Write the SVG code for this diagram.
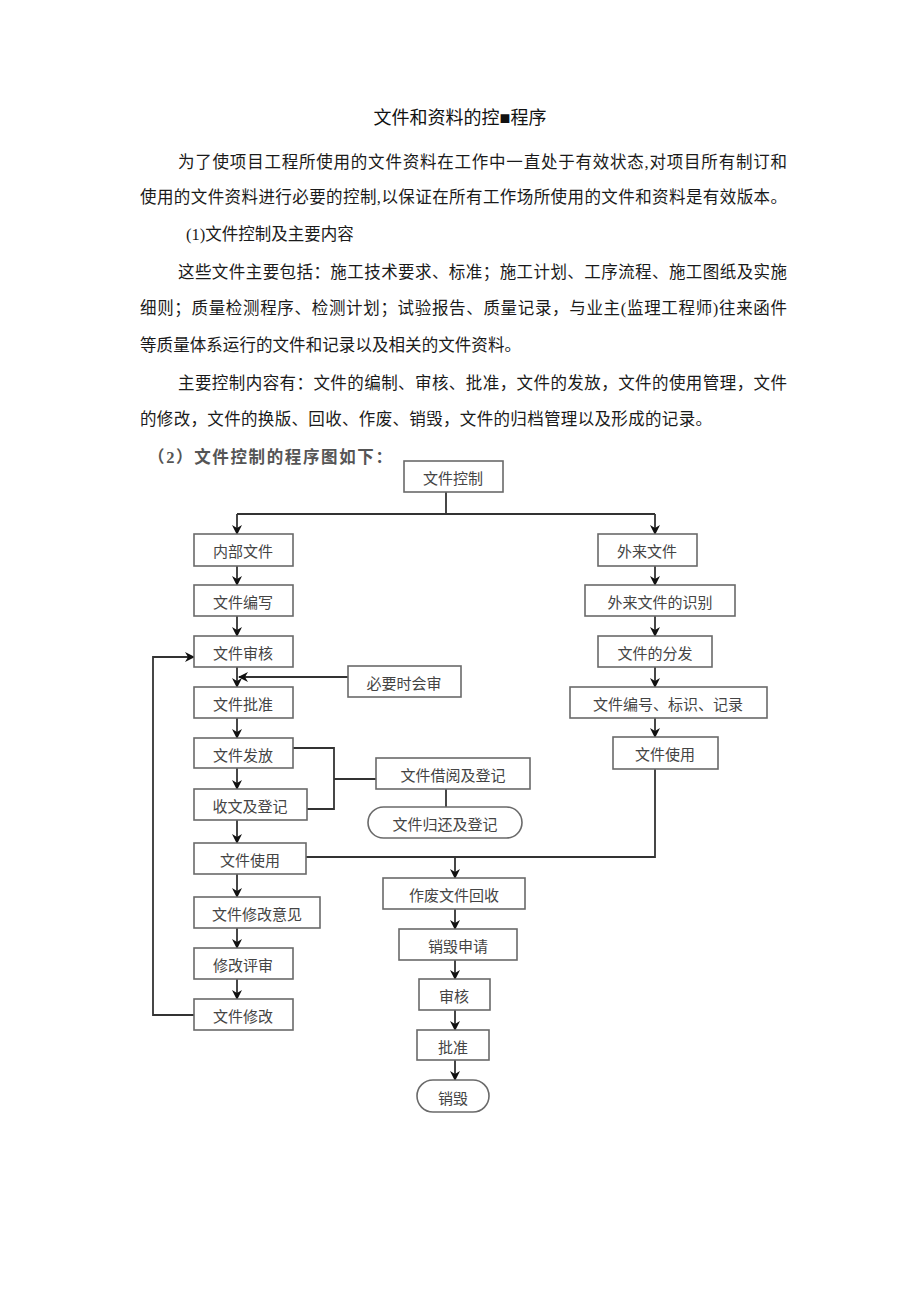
<svg xmlns="http://www.w3.org/2000/svg" width="920" height="1301" viewBox="0 0 920 1301">
<style>
.t{font-family:"Liberation Serif","Noto Sans CJK SC",serif;font-size:16.5px;fill:#1a1a1a}
.h{font-family:"Liberation Sans","Noto Sans CJK SC",sans-serif;font-size:18px;fill:#111}
.s{font-family:"Liberation Serif","Noto Sans CJK SC",serif;font-size:16.5px;fill:#555;font-weight:bold}
.b{fill:#fff;stroke:#6a6a6a;stroke-width:1.6}
.bt{font-family:"Noto Sans CJK SC",sans-serif;font-size:15px;fill:#444;text-anchor:middle;dominant-baseline:central}
.c path{fill:none;stroke:#333;stroke-width:1.8}
</style>
<defs>
<marker id="a" markerUnits="userSpaceOnUse" markerWidth="10" markerHeight="10" refX="9" refY="5" orient="auto">
<path d="M0,0 L10,5 L0,10 L3,5 Z" fill="#111"/>
</marker>
</defs>
<rect width="920" height="1301" fill="#fff"/>
<g id="text">
<text class="h" x="460" y="124" text-anchor="middle">文件和资料的控■程序</text>
<text class="t" x="178" y="168" textLength="609" lengthAdjust="spacing">为了使项目工程所使用的文件资料在工作中一直处于有效状态,对项目所有制订和</text>
<text class="t" x="140" y="203" textLength="647" lengthAdjust="spacing">使用的文件资料进行必要的控制,以保证在所有工作场所使用的文件和资料是有效版本。</text>
<text class="t" x="186" y="240">(1)文件控制及主要内容</text>
<text class="t" x="178" y="278" textLength="609" lengthAdjust="spacing">这些文件主要包括：施工技术要求、标准；施工计划、工序流程、施工图纸及实施</text>
<text class="t" x="140" y="314" textLength="647" lengthAdjust="spacing">细则；质量检测程序、检测计划；试验报告、质量记录，与业主(监理工程师)往来函件</text>
<text class="t" x="140" y="351" textLength="381" lengthAdjust="spacing">等质量体系运行的文件和记录以及相关的文件资料。</text>
<text class="t" x="178" y="389" textLength="609" lengthAdjust="spacing">主要控制内容有：文件的编制、审核、批准，文件的发放，文件的使用管理，文件</text>
<text class="t" x="140" y="425" textLength="572" lengthAdjust="spacing">的修改，文件的换版、回收、作废、销毁，文件的归档管理以及形成的记录。</text>
<text class="s" x="148" y="463" textLength="244" lengthAdjust="spacing">（2）文件控制的程序图如下：</text>
</g>
<g class="c" id="connectors">
<path d="M446,492 V514 M237,514 H655"/>
<path d="M237,514 V534" marker-end="url(#a)"/>
<path d="M655,514 V534" marker-end="url(#a)"/>
<path d="M237,566 V585" marker-end="url(#a)"/>
<path d="M237,616 V636" marker-end="url(#a)"/>
<path d="M237,667 V687" marker-end="url(#a)"/>
<path d="M237,718 V738" marker-end="url(#a)"/>
<path d="M237,768 V789" marker-end="url(#a)"/>
<path d="M237,820 V843" marker-end="url(#a)"/>
<path d="M237,874 V897" marker-end="url(#a)"/>
<path d="M237,928 V948" marker-end="url(#a)"/>
<path d="M237,979 V999" marker-end="url(#a)"/>
<path d="M348,677 H239" marker-end="url(#a)"/>
<path d="M655,566 V585" marker-end="url(#a)"/>
<path d="M655,616 V636" marker-end="url(#a)"/>
<path d="M655,667 V687" marker-end="url(#a)"/>
<path d="M655,718 V737" marker-end="url(#a)"/>
<path d="M655,769 V857 H306"/>
<path d="M455,857 V878" marker-end="url(#a)"/>
<path d="M455,909 V929" marker-end="url(#a)"/>
<path d="M455,960 V979" marker-end="url(#a)"/>
<path d="M455,1010 V1030" marker-end="url(#a)"/>
<path d="M455,1060 V1080" marker-end="url(#a)"/>
<path d="M293,748 H334 V809 H307 M334,779 H376"/>
<path d="M446,789 V807"/>
<path d="M194,1015 H153 V657 H194" marker-end="url(#a)"/>
</g>
<g id="n_ctrl"><rect class="b" x="404" y="461" width="99" height="31"/><text class="bt" x="453" y="477">文件控制</text></g>
<g id="n_internal"><rect class="b" x="194" y="534" width="99" height="32"/><text class="bt" x="243" y="550">内部文件</text></g>
<g id="n_external"><rect class="b" x="598" y="534" width="99" height="32"/><text class="bt" x="647" y="550">外来文件</text></g>
<g id="n_write"><rect class="b" x="194" y="585" width="99" height="31"/><text class="bt" x="243" y="601">文件编写</text></g>
<g id="n_identify"><rect class="b" x="585" y="585" width="150" height="31"/><text class="bt" x="660" y="601">外来文件的识别</text></g>
<g id="n_review"><rect class="b" x="194" y="636" width="99" height="31"/><text class="bt" x="243" y="652">文件审核</text></g>
<g id="n_distribute"><rect class="b" x="598" y="636" width="114" height="31"/><text class="bt" x="655" y="652">文件的分发</text></g>
<g id="n_joint"><rect class="b" x="348" y="666" width="113" height="31"/><text class="bt" x="404" y="682">必要时会审</text></g>
<g id="n_number"><rect class="b" x="570" y="687" width="197" height="31"/><text class="bt" x="668" y="703">文件编号、标识、记录</text></g>
<g id="n_approve"><rect class="b" x="194" y="687" width="99" height="31"/><text class="bt" x="243" y="703">文件批准</text></g>
<g id="n_use_r"><rect class="b" x="613" y="737" width="105" height="32"/><text class="bt" x="665" y="753">文件使用</text></g>
<g id="n_issue"><rect class="b" x="194" y="738" width="99" height="30"/><text class="bt" x="243" y="754">文件发放</text></g>
<g id="n_borrow"><rect class="b" x="376" y="758" width="154" height="31"/><text class="bt" x="453" y="774">文件借阅及登记</text></g>
<g id="n_receive"><rect class="b" x="194" y="789" width="113" height="31"/><text class="bt" x="250" y="805">收文及登记</text></g>
<g id="n_return"><rect class="b" x="368" y="807" width="154" height="31" rx="15.5"/><text class="bt" x="445" y="823">文件归还及登记</text></g>
<g id="n_use_l"><rect class="b" x="194" y="843" width="112" height="31"/><text class="bt" x="250" y="859">文件使用</text></g>
<g id="n_recall"><rect class="b" x="383" y="878" width="142" height="31"/><text class="bt" x="454" y="894">作废文件回收</text></g>
<g id="n_modopinion"><rect class="b" x="194" y="897" width="126" height="31"/><text class="bt" x="257" y="913">文件修改意见</text></g>
<g id="n_destroyreq"><rect class="b" x="399" y="929" width="118" height="31"/><text class="bt" x="458" y="945">销毁申请</text></g>
<g id="n_modreview"><rect class="b" x="194" y="948" width="99" height="31"/><text class="bt" x="243" y="964">修改评审</text></g>
<g id="n_check"><rect class="b" x="419" y="979" width="71" height="31"/><text class="bt" x="454" y="995">审核</text></g>
<g id="n_modify"><rect class="b" x="194" y="999" width="99" height="31"/><text class="bt" x="243" y="1015">文件修改</text></g>
<g id="n_ok"><rect class="b" x="417" y="1030" width="72" height="30"/><text class="bt" x="453" y="1046">批准</text></g>
<g id="n_destroy"><rect class="b" x="417" y="1080" width="72" height="32" rx="16"/><text class="bt" x="453" y="1097">销毁</text></g>
</svg>
